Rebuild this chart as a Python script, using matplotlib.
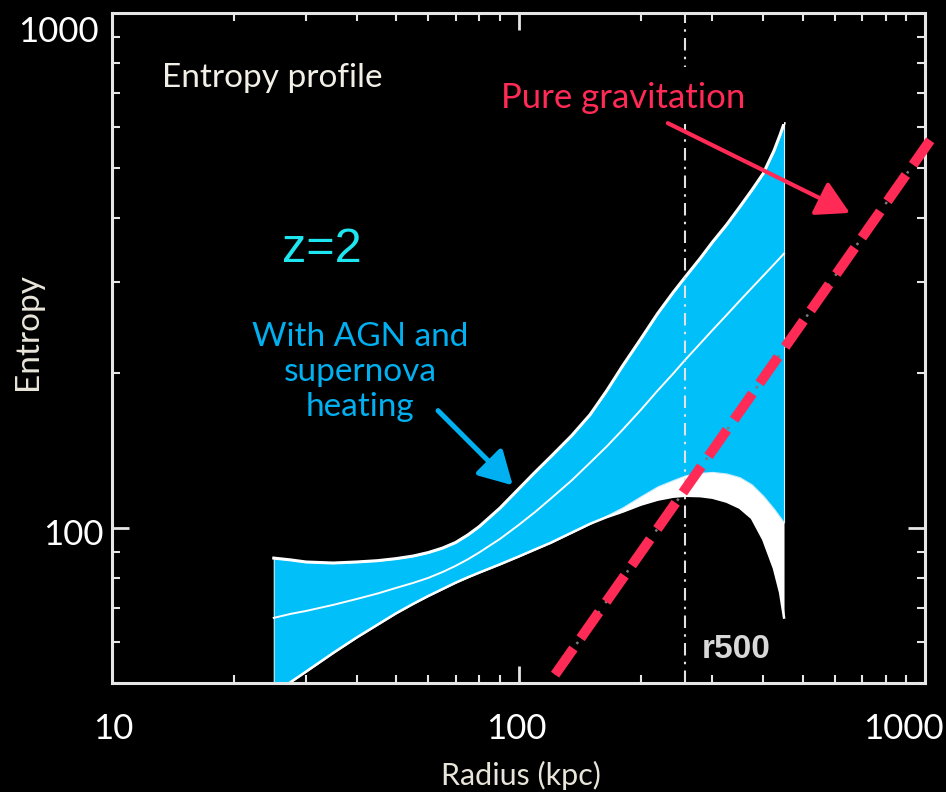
import matplotlib
matplotlib.use('Agg')
import matplotlib.pyplot as plt
from matplotlib.patches import Rectangle

# entropy band from the simulations (radius in kpc)
radius = [25, 27.5, 30, 35, 40, 45, 50, 55, 60, 65, 70, 75, 80, 90, 100, 110, 120, 135, 150,
          165, 180, 200, 220, 240, 257, 280, 300, 325, 350, 375, 400, 425, 440, 450]
k_upper = [87.4, 86.7, 85.9, 85.5, 85.9, 86.4, 87.2, 88.2, 89.6, 91.4, 93.7, 96.9, 100.6,
           109.3, 119.0, 128.5, 137.5, 151.0, 166.0, 185.0, 206.0, 233.0, 261.0, 286.5,
           307.0, 334.0, 359.0, 388.0, 420.0, 453.0, 488.0, 540.0, 580.0, 610.0]
k_mid = [66.9, 68.1, 69.0, 70.9, 72.8, 74.6, 76.5, 78.2, 80.0, 82.1, 84.4, 86.9, 89.6,
         95.2, 101.3, 107.5, 114.0, 123.6, 133.9, 144.1, 154.9, 169.6, 184.9, 199.3,
         212.0, 228.2, 242.2, 259.1, 276.1, 292.6, 308.8, 324.9, 334.6, 341.1]
k_lower = [47.6, 50.2, 52.6, 57.2, 61.3, 64.9, 68.3, 71.2, 73.8, 76.1, 78.3, 80.2, 81.9,
           85.0, 88.0, 90.9, 93.6, 97.9, 101.9, 105.8, 109.6, 115.3, 120.5, 123.9,
           126.5, 128.0, 128.5, 127.6, 125.5, 121.5, 115.5, 109.0, 105.0, 102.5]
k_floor = [47.6, 50.2, 52.6, 57.2, 61.3, 64.9, 68.3, 71.2, 73.8, 76.1, 78.3, 80.2, 81.9,
           85.0, 88.0, 90.9, 93.6, 97.9, 101.9, 105.0, 107.5, 111.0, 113.5, 115.0,
           115.5, 115.3, 114.5, 112.5, 109.5, 104.5, 95.0, 83.5, 75.0, 67.0]

r500 = 257

# pure gravitational collapse, K ~ r^1.1
grav_r = [123, 1030]
grav_k = [51.9, 566]

xtick_labels = ['10', '100', '1000']
ytick_labels = ['100', '1000']

W, H = 946, 792
CYAN = '#00bff9'
RED = '#ff2a55'
BLUE_TXT = '#00b0f0'
FRAME = '#e6e6e6'
FONT = 'Lato'


def fx(px):
    return px / W


def fy(py):
    return 1 - py / H


fig = plt.figure(figsize=(W / 100, H / 100), dpi=100, facecolor='black')
ax = fig.add_axes([fx(112), fy(683), (925 - 112) / W, (683 - 13) / H])
ax.set_facecolor('black')
ax.set_xscale('log')
ax.set_yscale('log')
ax.set_xlim(10, 1000)
ax.set_ylim(50, 1000)

ax.fill_between(radius, k_floor, k_lower, color='white', lw=0, zorder=1)
ax.fill_between(radius, k_lower, k_upper, facecolor=CYAN, edgecolor='#d0f2ff', lw=0.8, zorder=1.1)
ax.plot(radius, k_upper, color='white', lw=2.2, zorder=2)
ax.plot(radius, k_mid, color='white', lw=1.4, zorder=2)
ax.plot(radius, k_floor, color='white', lw=1.8, zorder=2)

ax.axvline(r500, color='#e2e2e2', lw=1.5, ls=(0, (6, 3, 1.2, 3)), zorder=2.5)

ax.plot(grav_r, grav_k, color='#7a7a7a', lw=1.8, ls=(0, (1, 4)), zorder=2.6, clip_on=False)
ax.plot(grav_r, grav_k, color=RED, lw=7.2, dashes=(3.2, 1.25), solid_capstyle='butt',
        dash_capstyle='butt', zorder=3, clip_on=False)

# black backing behind the "Pure gravitation" label
ax.add_patch(Rectangle((fx(470), fy(124)), (784 - 470) / W, (124 - 67) / H,
                       transform=fig.transFigure, facecolor='black', edgecolor='none', zorder=4))

for side in ax.spines.values():
    side.set_color(FRAME)
    side.set_linewidth(2.2)
ax.tick_params(which='both', direction='in', top=True, right=True, color=FRAME,
               labelleft=False, labelbottom=False)
ax.tick_params(which='major', length=12, width=2)
ax.tick_params(which='minor', length=6, width=1.5)

# axis numbers and titles
for px, lab in zip([113, 516, 903], xtick_labels):
    fig.text(fx(px), fy(729), lab, color='white', fontsize=25, family=FONT, ha='center', va='center')
for (px, py), lab in zip([(73, 535), (58, 32)], ytick_labels):
    fig.text(fx(px), fy(py), lab, color='white', fontsize=25, family=FONT, ha='center', va='center')
fig.text(fx(521), fy(775), 'Radius (kpc)', color='#e9e5da', fontsize=22, family=FONT,
         ha='center', va='center')
fig.text(fx(28), fy(332), 'Entropy', color='#e9e5da', fontsize=24, family=FONT,
         rotation=90, ha='center', va='center')

# annotations inside the panel
ax.text(0.0615, 0.903, 'Entropy profile', transform=ax.transAxes, color='#f2efe6',
        fontsize=24, family=FONT, ha='left', va='center', zorder=5)
ax.text(0.2583, 0.6463, 'z=2', transform=ax.transAxes, color='#1ee6f0',
        fontsize=35, family='Liberation Sans', ha='center', va='center', zorder=5)
ax.text(0.3050, 0.4642, 'With AGN and\nsupernova\nheating', transform=ax.transAxes,
        color=BLUE_TXT, fontsize=24, family=FONT, ha='center', va='center',
        linespacing=1.2, zorder=5)
ax.text(0.6285, 0.8731, 'Pure gravitation', transform=ax.transAxes, color=RED,
        fontsize=25, family=FONT, ha='center', va='center', zorder=5)
ax.text(0.7257, 0.0493, 'r500', transform=ax.transAxes, color='#d8d8d8',
        fontsize=24, family='Liberation Sans', weight='bold', ha='left', va='center', zorder=5)

ax.annotate('', xy=(653, 409), xytext=(233, 611),
            arrowprops=dict(arrowstyle='-|>,head_length=0.8,head_width=0.45', color=RED,
                            lw=3, mutation_scale=25, shrinkA=0, shrinkB=0), zorder=5)
ax.annotate('', xy=(96.8, 121), xytext=(63.4, 169),
            arrowprops=dict(arrowstyle='-|>,head_length=0.8,head_width=0.45', color=BLUE_TXT,
                            lw=3.6, mutation_scale=25, shrinkA=0, shrinkB=0), zorder=5)

fig.savefig('out.png', dpi=100, facecolor='black')
